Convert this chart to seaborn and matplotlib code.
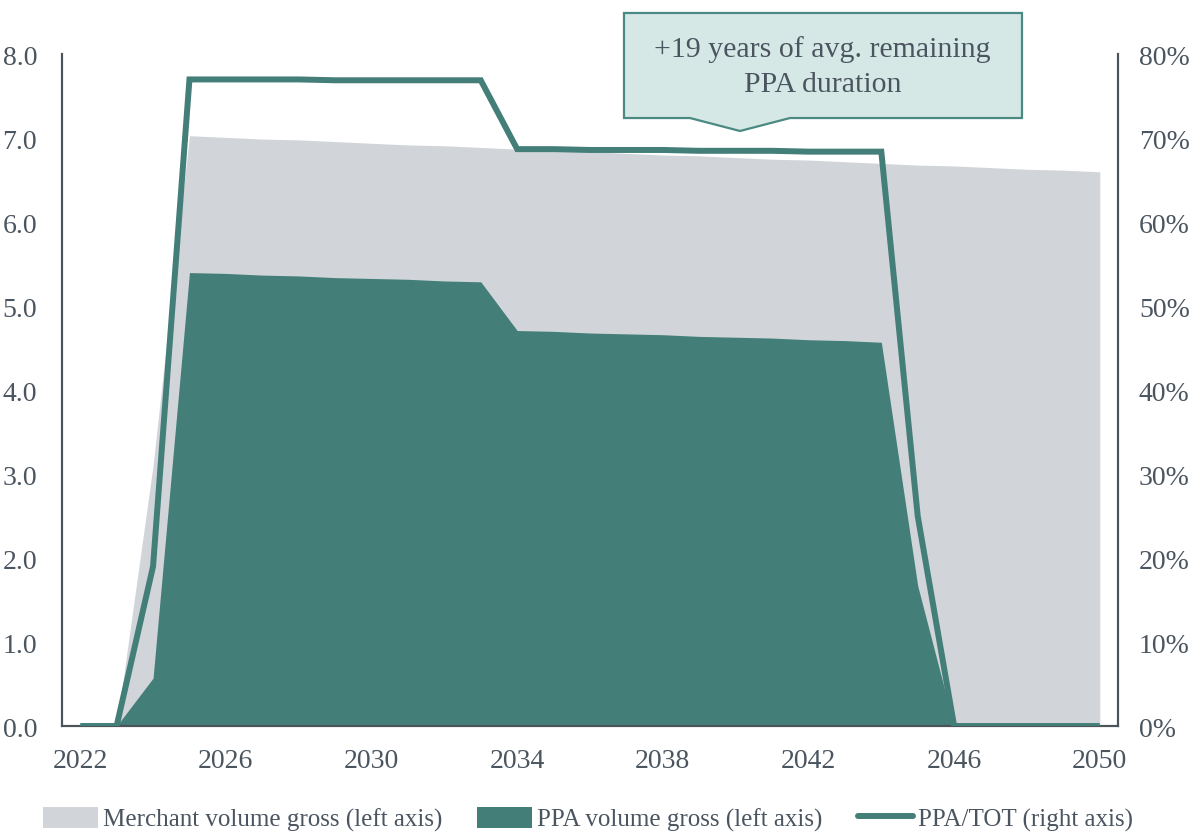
import matplotlib
matplotlib.use("Agg")
import matplotlib.pyplot as plt
import seaborn as sns
import pandas as pd
import numpy as np
from matplotlib.patches import Patch, Polygon
from matplotlib.lines import Line2D
from matplotlib.ticker import PercentFormatter

# dati
years = list(range(2022, 2051))
merchant_gross = [0.0, 0.0, 3.1, 7.03, 7.01, 6.99, 6.98, 6.96, 6.94, 6.92, 6.91, 6.89,
                  6.87, 6.86, 6.84, 6.82, 6.80, 6.79, 6.77, 6.75, 6.74, 6.72, 6.70,
                  6.68, 6.67, 6.65, 6.63, 6.62, 6.60]
ppa_gross = [0.0, 0.0, 0.57, 5.40, 5.39, 5.37, 5.36, 5.34, 5.33, 5.32, 5.30, 5.29,
             4.71, 4.70, 4.68, 4.67, 4.66, 4.64, 4.63, 4.62, 4.60, 4.59, 4.57,
             1.67, 0.0, 0.0, 0.0, 0.0, 0.0]
ppa_tot = [0.0, 0.0, 0.19, 0.770, 0.770, 0.770, 0.770, 0.769, 0.769, 0.769, 0.769, 0.769,
           0.687, 0.687, 0.686, 0.686, 0.686, 0.685, 0.685, 0.685, 0.684, 0.684, 0.684,
           0.25, 0.0, 0.0, 0.0, 0.0, 0.0]
xticks = list(range(2022, 2051, 4))
callout_text = "+19 years of avg. remaining\nPPA duration"

df = pd.DataFrame({"year": years, "merchant": merchant_gross,
                   "ppa": ppa_gross, "ratio": ppa_tot})

grey = "#d1d5d9"
teal = "#437f78"
txt = "#4b5560"
spine_c = "#4b535b"

sns.set_theme(style="white")
plt.rcParams["font.family"] = ["Liberation Serif", "DejaVu Serif"]
plt.rcParams["text.color"] = txt
plt.rcParams["xtick.color"] = txt
plt.rcParams["ytick.color"] = txt

fig = plt.figure(figsize=(11.97, 8.37), dpi=100)
ax = fig.add_axes([0.0518, 0.1314, 0.8822, 0.8026])

ax.fill_between(df["year"], 0, df["merchant"], color=grey, linewidth=0, zorder=1)
ax.fill_between(df["year"], 0, df["ppa"], color=teal, linewidth=0, zorder=2)
ax.set_xlim(2021.5, 2050.5)
ax.set_ylim(0, 8)
ax.set_yticks(np.arange(0, 8.01, 1.0))
ax.set_yticklabels([f"{v:.1f}" for v in np.arange(0, 8.01, 1.0)])
ax.set_xticks(xticks)
ax.set_xlabel("")
ax.set_ylabel("")

ax2 = ax.twinx()
sns.lineplot(data=df, x="year", y="ratio", ax=ax2, color=teal, linewidth=4.3,
             solid_joinstyle="miter", solid_capstyle="butt", zorder=5)
ax2.set_ylim(0, 0.8)
ax2.set_yticks(np.arange(0, 0.81, 0.1))
ax2.yaxis.set_major_formatter(PercentFormatter(1.0, decimals=0))
ax2.set_xlim(2021.5, 2050.5)
ax2.set_xlabel("")
ax2.set_ylabel("")

for a in (ax, ax2):
    a.spines["top"].set_visible(False)
    for s in ("left", "right", "bottom"):
        a.spines[s].set_color(spine_c)
        a.spines[s].set_linewidth(1.5)
    a.tick_params(axis="both", length=0, labelsize=20)
ax.tick_params(axis="y", pad=18)
ax.tick_params(axis="x", pad=16)
ax2.tick_params(axis="y", pad=15)

# callout
box = [(0.5213, 0.9833), (0.8538, 0.9833), (0.8538, 0.8578), (0.660, 0.8578),
       (0.6182, 0.8423), (0.5764, 0.8578), (0.5213, 0.8578)]
fig.patches.append(Polygon(box, closed=True, transform=fig.transFigure,
                           facecolor="#d5e8e5", edgecolor="#4a8a82", linewidth=1.6))
fig.text(0.687, 0.9195, callout_text, ha="center", va="center",
         fontsize=21.5, linespacing=1.45)

handles = [Patch(facecolor=grey, edgecolor="none"),
           Patch(facecolor=teal, edgecolor="none"),
           Line2D([0], [0], color=teal, linewidth=4.3, solid_capstyle="round")]
labels = ["Merchant volume gross (left axis)", "PPA volume gross (left axis)",
          "PPA/TOT (right axis)"]
fig.legend(handles, labels, loc="center", bbox_to_anchor=(0.491, 0.0203), ncol=3,
           frameon=False, fontsize=18, handlelength=2.2, handleheight=0.95,
           handletextpad=0.2, columnspacing=1.4)

fig.savefig("out.png", dpi=100)
